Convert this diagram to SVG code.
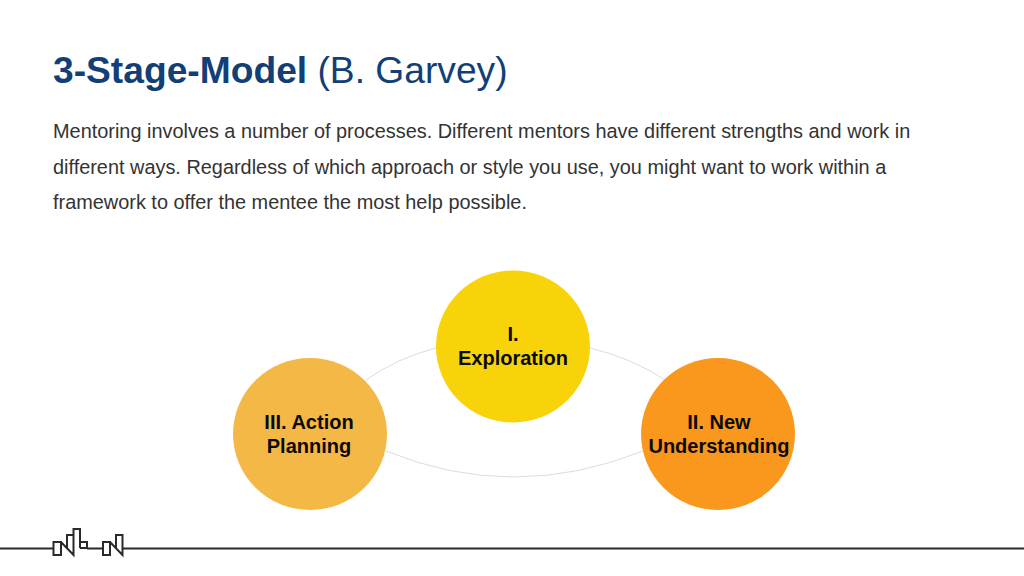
<svg xmlns="http://www.w3.org/2000/svg" width="1024" height="576" viewBox="0 0 1024 576">
<style>
.t{font-family:"Liberation Sans",Arial,sans-serif}
.body{font-size:19.9px;fill:#333}
.lab{font-size:20px;font-weight:700;fill:#0a0a0a;text-anchor:middle}
.arc{fill:none;stroke:#dcdcdc;stroke-width:1}
.logo{fill:none;stroke:#2a2a2a;stroke-width:2}
</style>
<rect width="1024" height="576" fill="#fff"/>
<g id="title"><text class="t" x="53" y="83" font-size="37.200" fill="#123f76"><tspan font-weight="700">3-Stage-Model</tspan> (B. Garvey)</text></g>
<g id="intro">
<text class="t body" x="53" y="138">Mentoring involves a number of processes. Different mentors have different strengths and work in</text>
<text class="t body" x="53" y="174">different ways. Regardless of which approach or style you use, you might want to work within a</text>
<text class="t body" x="53" y="209">framework to offer the mentee the most help possible.</text>
</g>
<g id="connectors">
<path class="arc" d="M366 380Q397 358 436 348"/>
<path class="arc" d="M590 348Q632 358 665 380"/>
<path class="arc" d="M386 451Q513 503 643 451"/>
</g>
<g id="node-1"><ellipse cx="513" cy="346.500" rx="77" ry="76" fill="#f8d30a"/>
<text class="t lab" x="513" y="341">I.</text><text class="t lab" x="513" y="365">Exploration</text></g>
<g id="node-2"><ellipse cx="718" cy="434" rx="77" ry="76" fill="#fa971d"/>
<text class="t lab" x="719" y="429">II. New</text><text class="t lab" x="719" y="453">Understanding</text></g>
<g id="node-3"><ellipse cx="310" cy="434" rx="77" ry="76" fill="#f4b847"/>
<text class="t lab" x="309" y="429">III. Action</text><text class="t lab" x="309" y="453">Planning</text></g>
<g id="footer">
<path class="logo" d="M0 548.500H53M87 548.500H103M123 548.500H1024"/>
<path class="logo" d="M53.500 542H61V555H53.500ZM61 542L73.500 555V535H67V548M73.500 548V529H80V548M80 542H87V548H80"/>
<path class="logo" d="M103 542H110V555H103ZM110 542L122.500 555V535H116V548"/>
</g>
</svg>
